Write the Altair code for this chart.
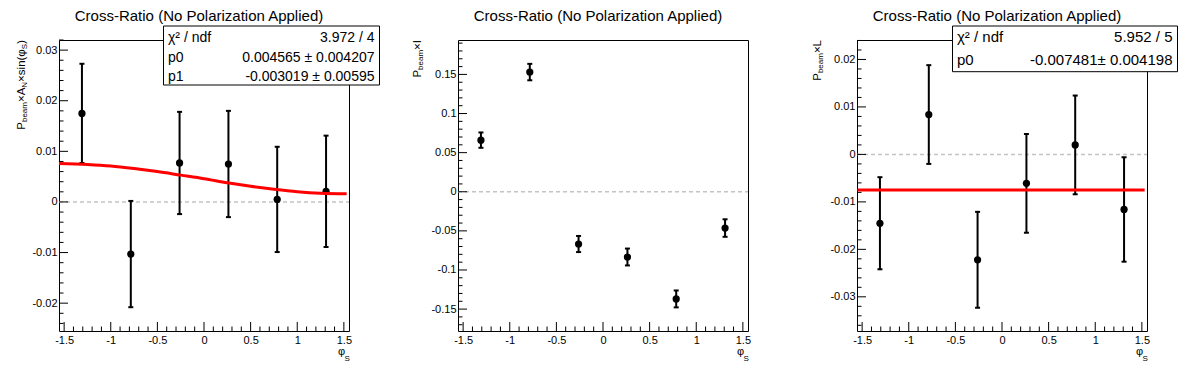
import altair as alt
import pandas as pd

FONT = "Liberation Sans"
TITLE = "Cross-Ratio (No Polarization Applied)"

# ---- data ----
phi_s = [-1.309, -0.785, -0.262, 0.262, 0.785, 1.309]

an_val = [0.0175, -0.0103, 0.0077, 0.0075, 0.0005, 0.0021]
an_err = [0.0098, 0.0105, 0.0101, 0.0105, 0.0104, 0.0110]

i_val = [0.066, 0.153, -0.0668, -0.0834, -0.137, -0.0464]
i_err = [0.0098, 0.0105, 0.0103, 0.0108, 0.0108, 0.0112]

l_val = [-0.0145, 0.0084, -0.0222, -0.0061, 0.0020, -0.0116]
l_err = [0.0097, 0.0104, 0.0101, 0.0104, 0.0104, 0.0110]

fit1_x = [-1.555, -1.25, -1.0, -0.75, -0.5, -0.25, 0.0, 0.25, 0.5, 0.75, 1.0, 1.25, 1.53]
fit1_y = [0.0076, 0.0074, 0.0071, 0.0066, 0.0060, 0.0053, 0.0046, 0.0038, 0.0031, 0.0025, 0.0020, 0.0017, 0.0016]

fit3_x = [-1.55, 1.53]
fit3_y = [-0.007481, -0.007481]

stats1 = [("χ² / ndf", "3.972 / 4"), ("p0", "0.004565 ± 0.004207"), ("p1", "-0.003019 ± 0.00595")]
stats3 = [("χ² / ndf", "5.952 / 5"), ("p0", "-0.007481± 0.004198")]

x_major = [-1.5, -1.0, -0.5, 0.0, 0.5, 1.0, 1.5]
x_minor = [round(0.1 * k, 2) for k in range(-15, 16) if k % 5]

y1_major = [-0.02, -0.01, 0.0, 0.01, 0.02, 0.03]
y1_minor = [round(0.002 * k, 4) for k in range(-12, 17) if k % 5]
y2_major = [-0.15, -0.1, -0.05, 0.0, 0.05, 0.1, 0.15]
y2_minor = [round(0.01 * k, 3) for k in range(-17, 20) if k % 5]
y3_major = [-0.03, -0.02, -0.01, 0.0, 0.01, 0.02]
y3_minor = [round(0.002 * k, 4) for k in range(-18, 13) if k % 5]

XDOM = [-1.555, 1.555]
W, H = 290, 291

CW = {"P": .667, "b": .556, "e": .556, "a": .556, "m": .833, "×": .584, "A": .667,
      "N": .722, "s": .5, "i": .222, "n": .556, "(": .333, ")": .333, "φ": .65,
      "S": .667, "I": .278, "L": .556}
MAIN, SUB = 11.5, 8


def one(**kw):
    return pd.DataFrame({k: [v] for k, v in kw.items()})


def text(t, x, y, size, align="left", baseline="alphabetic", angle=0):
    return alt.Chart(one(t=t)).mark_text(
        font=FONT, fontSize=size, align=align, baseline=baseline, angle=angle, color="black"
    ).encode(x=alt.value(x), y=alt.value(y), text="t:N")


def ytitle(segs, xb, top=0.0):
    widths = [sum(CW[c] for c in s) * (SUB if sub else MAIN) for s, sub in segs]
    pos = top + sum(widths)
    layers = []
    for (s, sub), w in zip(segs, widths):
        layers.append(text(s, xb + (1.5 if sub else 0), pos, SUB if sub else MAIN, angle=270))
        pos -= w
    return layers


def panel(vals, errs, ydom, ymaj, ymin, segs, ytx, fit=None, stats=None, box=None,
          stat_size=14, rows=None, anchor=False):
    sx = alt.Scale(domain=XDOM, nice=False, zero=False)
    sy = alt.Scale(domain=ydom, nice=False, zero=False)
    xax = alt.Axis(values=x_major, labelExpr="toString(datum.value)", title=None,
                   labelPadding=3.5, labelFontSize=11)
    yax = alt.Axis(values=ymaj, labelExpr="toString(datum.value)", title=None,
                   labelPadding=2, labelFontSize=11)

    def X(f):
        return alt.X(f, type="quantitative", scale=sx, axis=xax)

    def Y(f):
        return alt.Y(f, type="quantitative", scale=sy, axis=yax)

    df = pd.DataFrame({"x": phi_s, "y": vals,
                       "lo": [v - e for v, e in zip(vals, errs)],
                       "hi": [v + e for v, e in zip(vals, errs)]})
    layers = []
    if anchor:
        layers.append(alt.Chart(one(a=0)).mark_rule(strokeOpacity=0).encode(
            x=alt.value(-50), y=alt.value(0), y2=alt.value(10)))
    layers.append(text(TITLE, 140, -19, 15, align="center"))
    layers.append(alt.Chart(pd.DataFrame({"v": [0.0]})).mark_rule(
        color="#c4c4c4", strokeDash=[4, 3], strokeWidth=1.5).encode(
        y=Y("v"), x=alt.value(0), x2=alt.value(W)))
    layers.append(alt.Chart(pd.DataFrame({"v": ymaj})).mark_rule(color="black", strokeWidth=1).encode(
        y=Y("v"), x=alt.value(0), x2=alt.value(9)))
    layers.append(alt.Chart(pd.DataFrame({"v": ymin})).mark_rule(color="black", strokeWidth=1).encode(
        y=Y("v"), x=alt.value(0), x2=alt.value(4.5)))
    layers.append(alt.Chart(pd.DataFrame({"v": x_major})).mark_rule(color="black", strokeWidth=1).encode(
        x=X("v"), y=alt.value(H), y2=alt.value(H - 9)))
    layers.append(alt.Chart(pd.DataFrame({"v": x_minor})).mark_rule(color="black", strokeWidth=1).encode(
        x=X("v"), y=alt.value(H), y2=alt.value(H - 4.5)))
    layers.append(alt.Chart(df).mark_rule(color="black", strokeWidth=2).encode(
        x=X("x"), y=Y("lo"), y2=alt.Y2("hi")))
    for f in ("lo", "hi"):
        layers.append(alt.Chart(df).mark_tick(color="black", orient="horizontal", size=5,
                                              thickness=2, opacity=1).encode(x=X("x"), y=Y(f)))
    layers.append(alt.Chart(df).mark_circle(color="black", size=52, opacity=1).encode(
        x=X("x"), y=Y("y")))
    if fit is not None:
        layers.append(alt.Chart(pd.DataFrame({"x": fit[0], "y": fit[1]})).mark_line(
            color="#ff0000", strokeWidth=3, interpolate="monotone").encode(x=X("x"), y=Y("y")))
    if stats is not None:
        x1, y1, x2, y2 = box
        layers.append(alt.Chart(one(a=0)).mark_rect(fill="white", stroke="black", strokeWidth=1).encode(
            x=alt.value(x1), x2=alt.value(x2), y=alt.value(y1), y2=alt.value(y2)))
        for (lab, val), ry in zip(stats, rows):
            layers.append(text(lab, x1 + 4.5, ry, stat_size))
            layers.append(text(val, x2 - 5, ry, stat_size, align="right"))
    layers += ytitle(segs, ytx)
    layers.append(text("φ", 279, H + 24, 11))
    layers.append(text("S", 285.5, H + 29.5, 8))
    return alt.layer(*layers).properties(width=W, height=H)


seg1 = [("P", 0), ("beam", 1), ("×", 0), ("A", 0), ("N", 1), ("×", 0), ("sin(", 0),
        ("φ", 0), ("S", 1), (")", 0)]
seg2 = [("P", 0), ("beam", 1), ("×I", 0)]
seg3 = [("P", 0), ("beam", 1), ("×L", 0)]

p1 = panel(an_val, an_err, [-0.0255, 0.032], y1_major, y1_minor, seg1, -34,
           fit=(fit1_x, fit1_y), stats=stats1, box=(104.5, -14, 320.5, 45),
           stat_size=14, rows=[1.5, 21.5, 41], anchor=True)
p2 = panel(i_val, i_err, [-0.178, 0.194], y2_major, y2_minor, seg2, -37)
p3 = panel(l_val, l_err, [-0.0372, 0.0241], y3_major, y3_minor, seg3, -36,
           fit=(fit3_x, fit3_y), stats=stats3, box=(95.5, -14, 320.5, 31.7),
           stat_size=15, rows=[2, 25])

chart = alt.hconcat(p1, p2, p3, spacing=109, bounds="flush").properties(
    padding=0
).configure_view(stroke="black", strokeWidth=1).configure_axis(
    grid=False, domain=False, ticks=False, labelFont=FONT, labelFontSize=11, labelColor="black"
)

chart.save("out.html", embed_options={"renderer": "svg", "actions": False})
